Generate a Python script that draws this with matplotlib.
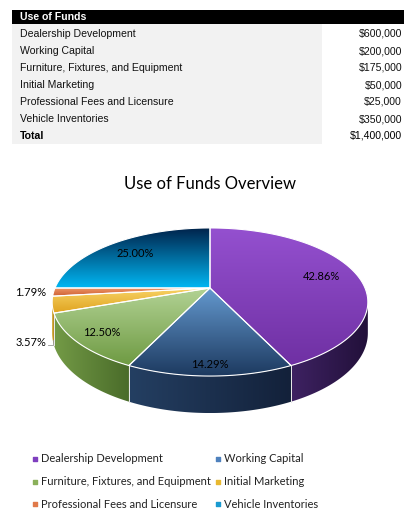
import numpy as np
import matplotlib
matplotlib.use('Agg')
import matplotlib.pyplot as plt
from matplotlib.patches import Polygon, Rectangle
from matplotlib.colors import to_rgb

# data
categories = ['Dealership Development', 'Working Capital', 'Furniture, Fixtures, and Equipment',
              'Initial Marketing', 'Professional Fees and Licensure', 'Vehicle Inventories']
amounts = [600000, 200000, 175000, 50000, 25000, 350000]
total_label = 'Total'

# colours: top face (light, dark), side face (left, right), legend swatch
top_cols = [('#9450cf', '#6f30a3'), ('#6499cf', '#1d3a60'), ('#b2d294', '#6e9a42'),
            ('#f8d468', '#e0a420'), ('#f09a6a', '#cf6236'), ('#00224a', '#00b6f2')]
side_cols = [('#3e2262', '#22103a'), ('#243f62', '#13213a'), ('#739a46', '#4a6c2a'),
             ('#d8a82a', '#b08418'), ('#c86a3c', '#a8502a'), ('#00406a', '#002040')]
legend_cols = ['#7f3fbf', '#4f81bd', '#8ab05a', '#e8b830', '#e07a4a', '#1a9ad0']
label_r = [0.76, 0.89, 0.84, None, None, 0.75]

fig = plt.figure(figsize=(4.15, 5.19), dpi=100)
ax = fig.add_axes([0, 0, 1, 1])

# ---- table ----
tf = 'Liberation Sans'
ax.add_patch(Rectangle((12, 10), 392, 14, facecolor='black', edgecolor='none'))
ax.add_patch(Rectangle((12, 24), 310, 120, facecolor='#f2f2f2', edgecolor='none'))
ax.text(20, 17.5, 'Use of Funds', color='white', fontsize=7.6, fontweight='bold',
        family=tf, va='center', ha='left')
row_y = 34
for cat, amt in zip(categories, amounts):
    ax.text(20, row_y, cat, fontsize=7.6, family=tf, va='center', ha='left', color='#111111')
    ax.text(402, row_y, f'${amt:,}', fontsize=7.6, family=tf, va='center', ha='right', color='#111111')
    row_y += 17
ax.text(20, row_y, total_label, fontsize=7.6, family=tf, fontweight='bold', va='center', ha='left')
ax.text(402, row_y, f'${sum(amounts):,}', fontsize=7.6, family=tf, va='center', ha='right')

# ---- title ----
cf = 'Lato'
ax.text(210, 184, 'Use of Funds Overview', fontsize=12, family=cf, ha='center', va='center')

# ---- 3d pie ----
CX, CY = 210, 288
RX, RY = 155, 71.4
K = 0.189
H = 30


def proj(theta, r=1.0, depth=0.0):
    s = 1.0 / (1.0 + K * np.cos(theta) * r)
    x = CX + s * RX * r * np.sin(theta)
    y = CY - s * RY * r * np.cos(theta) + s * depth
    return x, y


def grad_fill(verts, c1, c2, vertical=True, z=1):
    poly = Polygon(verts, closed=True, facecolor='none', edgecolor='none', zorder=z)
    ax.add_patch(poly)
    x0, y0 = verts.min(0)
    x1, y1 = verts.max(0)
    t = np.linspace(0, 1, 64)[:, None]
    cols = (1 - t) * np.array(to_rgb(c1)) + t * np.array(to_rgb(c2))
    img = cols[:, None, :] if vertical else cols[None, :, :]
    im = ax.imshow(img, extent=(x0, x1, y1, y0), origin='upper', aspect='auto',
                   interpolation='bilinear', zorder=z)
    im.set_clip_path(poly)


fracs = np.array(amounts) / sum(amounts)
bounds = np.concatenate([[0], np.cumsum(fracs)]) * 2 * np.pi
sil1 = np.arccos(-K)
sil2 = 2 * np.pi - sil1

for i in range(len(amounts)):
    a, b = bounds[i], bounds[i + 1]
    # side
    sa, sb = max(a, sil1), min(b, sil2)
    if sa < sb:
        th = np.linspace(sa, sb, 60)
        xt, yt = proj(th)
        xb, yb = proj(th[::-1], depth=H)
        verts = np.column_stack([np.concatenate([xt, xb]), np.concatenate([yt, yb])])
        grad_fill(verts, side_cols[i][0], side_cols[i][1], vertical=False, z=1)
        for edge in (sa, sb):
            if edge in (a, b):
                ex0, ey0 = proj(edge)
                ex1, ey1 = proj(edge, depth=H)
                ax.plot([ex0, ex1], [ey0, ey1], color='#e8e8e8', lw=0.7, zorder=1.5)
    # top
    th = np.linspace(a, b, 120)
    xt, yt = proj(th)
    verts = np.column_stack([np.concatenate([[CX], xt]), np.concatenate([[CY], yt])])
    grad_fill(verts, top_cols[i][0], top_cols[i][1], vertical=True, z=2)
    ax.add_patch(Polygon(verts, closed=True, facecolor='none', edgecolor='white',
                         lw=0.8, zorder=2.5))

# percentage labels
for i in range(len(amounts)):
    pct = f'{fracs[i] * 100:.2f}%'
    mid = (bounds[i] + bounds[i + 1]) / 2
    if label_r[i] is not None:
        lx, ly = proj(mid, r=label_r[i])
        ax.text(lx, ly, pct, fontsize=8, family=cf, ha='center', va='center', zorder=3)
ax.text(31, 293, f'{fracs[4] * 100:.2f}%', fontsize=8, family=cf, ha='center', va='center')
ax.text(31, 342, f'{fracs[3] * 100:.2f}%', fontsize=8, family=cf, ha='center', va='center')
ax.plot([48, 53, 53], [345, 345, 340], color='#999999', lw=0.6, zorder=3)

# ---- legend ----
for i, cat in enumerate(categories):
    col, row = i % 2, i // 2
    lx = 35 if col == 0 else 218
    ly = 459 + row * 22.5
    ax.scatter([lx], [ly], marker='s', s=6, color=legend_cols[i], zorder=3)
    ax.text(lx + 6, ly, cat, fontsize=8, family=cf, ha='left', va='center', color='#222222')

ax.set_xlim(0, 415)
ax.set_ylim(519, 0)
ax.axis('off')
fig.savefig('out.png', dpi=100)
